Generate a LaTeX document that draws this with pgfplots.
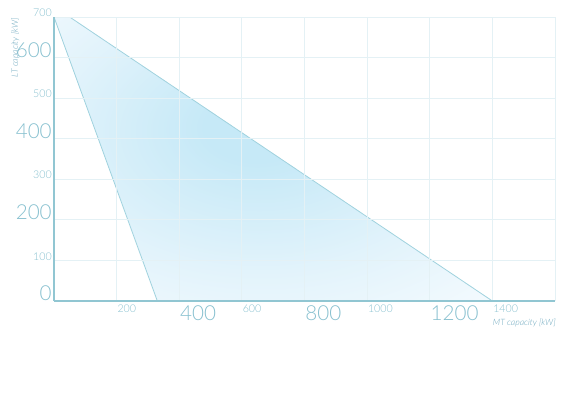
\documentclass[border=0pt]{standalone}
\usepackage{pgfplots}
\pgfplotsset{compat=1.18}
\usepackage{fontspec}
\setmainfont{Lato}[UprightFont=* Light, ItalicFont=* Light Italic]
\definecolor{tick}{RGB}{135,192,207}
\definecolor{axl}{RGB}{145,198,210}
\definecolor{grd}{RGB}{228,241,245}
\definecolor{edge}{RGB}{160,210,222}
\definecolor{lab}{RGB}{105,165,188}
\definecolor{ga}{RGB}{198,233,247}
\definecolor{gb}{RGB}{226,243,251}
\definecolor{gc}{RGB}{248,252,255}
\pgfdeclareradialshading{poly}{\pgfpoint{-2bp}{6bp}}{color(0bp)=(ga); color(6bp)=(ga); color(24bp)=(gb); color(42bp)=(gc); color(80bp)=(gc)}
\newcommand\sm{\fontsize{8}{8}\selectfont}
\newcommand\bg{\fontsize{15.5}{16}\selectfont}
\begin{document}
\begin{tikzpicture}
\useasboundingbox (0,0) rectangle (431.25pt,296.25pt);
\begin{axis}[
  at={(40.5pt,70.5pt)}, anchor=south west,
  scale only axis, width=375.75pt, height=213pt,
  xmin=0, xmax=1600, ymin=0, ymax=700,
  axis on top,
  axis x line*=bottom, axis y line*=left,
  axis line style={axl, line width=0.8pt, -},
  major tick length=0pt,
  grid=major, grid style={grd, line width=0.6pt},
  xtick={0,200,...,1600},
  xticklabels={,\sm 200,\bg 400,\sm 600,\bg 800,\sm 1000,\bg 1200,\sm 1400,},
  ytick={0,100,...,700},
  yticklabels={\bg 0,\sm 100,\bg 200,\sm 300,\bg 400,\sm 500,\bg 600,\sm 700},
  x tick label style={anchor=north west, inner sep=0pt, yshift=-3pt, xshift=0.5pt, text=tick},
  y tick label style={anchor=south east, inner sep=0pt, xshift=-1.5pt, text=tick},
]
\addplot[draw=edge, line width=0.6pt, shading=poly] coordinates {(0,700) (50,700) (1400,0) (330,0)} -- cycle;
\end{axis}
\node[rotate=90, anchor=north east, inner sep=0pt, text=lab, font=\itshape\fontsize{6.5}{7}\selectfont] at (8.25pt,282.75pt) {LT capacity [kW]};
\node[anchor=north east, inner sep=0pt, text=lab, font=\itshape\fontsize{6.5}{7}\selectfont] at (417pt,57pt) {MT capacity [kW]};
\end{tikzpicture}
\end{document}
